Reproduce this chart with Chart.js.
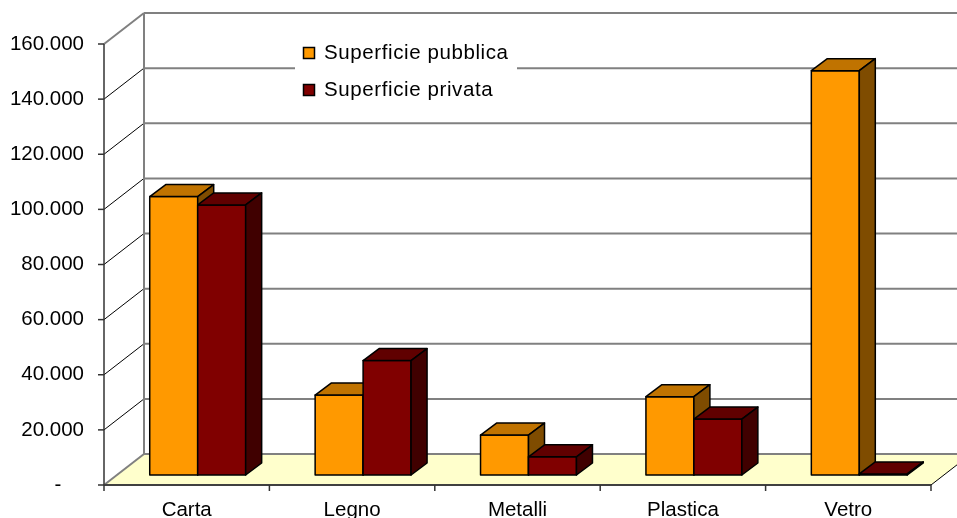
<!DOCTYPE html>
<html lang="it">
<head>
<meta charset="utf-8">
<title>Superficie pubblica e privata</title>
<script src="https://cdn.jsdelivr.net/npm/chart.js@4.4.1/dist/chart.umd.min.js"></script>
<style>
  html, body { margin: 0; padding: 0; background: #fff; }
  canvas { display: block; }
</style>
</head>
<body>
<canvas id="chart" width="957" height="518"></canvas>
<script>
// ── Data ──────────────────────────────────────────────────────
const categories = ['Carta', 'Legno', 'Metalli', 'Plastica', 'Vetro'];
const seriesNames = ['Superficie pubblica', 'Superficie privata'];
const pubblica = [101000, 29000, 14500, 28400, 146700];
const privata = [98000, 41500, 6600, 20300, 400];
const yTicks = [0, 20000, 40000, 60000, 80000, 100000, 120000, 140000, 160000];
const yTickLabels = ['-    ', '20.000', '40.000', '60.000', '80.000', '100.000', '120.000', '140.000', '160.000'];

// ── Look ──────────────────────────────────────────────────────
const FONT = '20.5px "Liberation Sans", Arial, sans-serif';
const orange = { front: '#ff9900', top: '#c07300', side: '#7f4c00' };
const maroon = { front: '#800000', top: '#600000', side: '#400000' };
const faces = [orange, maroon];
const GRID = '#808080';
const FLOOR = '#ffffcc';

// oblique offsets, measured from the plane of the bar fronts
const FRONT = { x: -11, y: 10 };
const BACK = { x: 29, y: -21 };
const DEPTH = { x: 16, y: -12 };

function line(ctx, x0, y0, x1, y1, color, width) {
  ctx.strokeStyle = color;
  ctx.lineWidth = width;
  ctx.beginPath();
  ctx.moveTo(x0, y0);
  ctx.lineTo(x1, y1);
  ctx.stroke();
}

function poly(ctx, pts, fill) {
  ctx.beginPath();
  pts.forEach(([px, py], i) => (i ? ctx.lineTo(px, py) : ctx.moveTo(px, py)));
  ctx.closePath();
  if (fill) {
    ctx.fillStyle = fill;
    ctx.fill();
  }
  ctx.strokeStyle = '#000';
  ctx.lineWidth = 1.5;
  ctx.stroke();
}

// ── Walls, floor, axes and 3D bars ────────────────────────────
const walls = {
  id: 'walls',
  beforeDatasetsDraw(chart) {
    const { ctx, chartArea: a, scales: { x, y } } = chart;
    const fx0 = a.left + FRONT.x, fx1 = a.right + FRONT.x;
    const bx0 = a.left + BACK.x, bx1 = a.right + BACK.x;
    const zero = y.getPixelForValue(0);
    ctx.save();

    // floor
    ctx.fillStyle = FLOOR;
    ctx.beginPath();
    ctx.moveTo(fx0, zero + FRONT.y);
    ctx.lineTo(fx1, zero + FRONT.y);
    ctx.lineTo(bx1, zero + BACK.y);
    ctx.lineTo(bx0, zero + BACK.y);
    ctx.closePath();
    ctx.fill();

    // gridlines on back wall, diagonals on the side wall, value labels
    ctx.font = FONT;
    ctx.textAlign = 'right';
    ctx.textBaseline = 'middle';
    yTicks.forEach((v, i) => {
      const py = y.getPixelForValue(v);
      line(ctx, bx0, py + BACK.y, bx1, py + BACK.y, GRID, 2);
      const edge = i === 0 || i === yTicks.length - 1;
      line(ctx, fx0, py + FRONT.y, bx0, py + BACK.y, edge ? GRID : '#000', edge ? 2 : 1);
      line(ctx, fx0 - 6, py + FRONT.y, fx0, py + FRONT.y, '#333', 1.5);
      ctx.fillStyle = '#000';
      ctx.fillText(yTickLabels[i], fx0 - 20, py + FRONT.y);
    });

    const top = y.getPixelForValue(yTicks[yTicks.length - 1]);
    line(ctx, bx0, top + BACK.y, bx0, zero + BACK.y, GRID, 2);
    line(ctx, fx0, top + FRONT.y, fx0, zero + FRONT.y, '#333', 1.5);

    // floor edges and category axis
    line(ctx, fx0, zero + FRONT.y, fx1, zero + FRONT.y, '#404040', 2);
    line(ctx, fx1, zero + FRONT.y, bx1, zero + BACK.y, '#000', 1);
    const cw = (a.right - a.left) / categories.length;
    for (let i = 0; i <= categories.length; i++) {
      const tx = fx0 + i * cw;
      line(ctx, tx, zero + FRONT.y, tx, zero + FRONT.y + 6, '#333', 1.5);
    }
    ctx.textAlign = 'center';
    ctx.textBaseline = 'alphabetic';
    ctx.fillStyle = '#000';
    categories.forEach((c, i) => {
      ctx.fillText(c, x.getPixelForValue(i) + FRONT.x, zero + FRONT.y + 31);
    });
    ctx.restore();
  },

  // repaint bars per category, left series first, so each front hides
  // the side face of the bar to its left
  afterDatasetsDraw(chart) {
    const { ctx } = chart;
    const metas = chart.data.datasets.map((_, d) => chart.getDatasetMeta(d));
    ctx.save();
    ctx.lineJoin = 'round';
    categories.forEach((_, i) => {
      metas.forEach((meta, d) => {
        const bar = meta.data[i];
        const col = faces[d];
        const { x, y, base, width } = bar.getProps(['x', 'y', 'base', 'width'], true);
        const l = x - width / 2, r = x + width / 2;
        poly(ctx, [[l, y], [r, y], [r, base], [l, base]], col.front);
        poly(ctx, [[l, y], [r, y], [r + DEPTH.x, y + DEPTH.y], [l + DEPTH.x, y + DEPTH.y]], col.top);
        poly(ctx, [[r, y], [r + DEPTH.x, y + DEPTH.y], [r + DEPTH.x, base + DEPTH.y], [r, base]], col.side);
      });
    });
    ctx.restore();
  },

  // legend box sits over the back wall
  afterDraw(chart) {
    const { ctx } = chart;
    ctx.save();
    ctx.fillStyle = '#fff';
    ctx.fillRect(295, 27, 222, 84);
    ctx.font = FONT;
    ctx.letterSpacing = '0.6px';
    ctx.textAlign = 'left';
    ctx.textBaseline = 'middle';
    seriesNames.forEach((name, i) => {
      const ly = 53 + i * 37;
      ctx.fillStyle = faces[i].front;
      ctx.fillRect(303.5, ly - 5.5, 11, 11);
      ctx.strokeStyle = '#000';
      ctx.lineWidth = 1.5;
      ctx.strokeRect(303.5, ly - 5.5, 11, 11);
      ctx.fillStyle = '#000';
      ctx.fillText(name, 324, ly);
    });
    ctx.restore();
  }
};

// ── Chart ─────────────────────────────────────────────────────
new Chart(document.getElementById('chart'), {
  type: 'bar',
  data: {
    labels: categories,
    datasets: [
      { label: seriesNames[0], data: pubblica, backgroundColor: orange.front, borderWidth: 0 },
      { label: seriesNames[1], data: privata, backgroundColor: maroon.front, borderWidth: 0 }
    ]
  },
  options: {
    responsive: false,
    animation: false,
    devicePixelRatio: 1,
    layout: { padding: { left: 115, right: 15, top: 34, bottom: 43 } },
    datasets: { bar: { categoryPercentage: 0.58, barPercentage: 1 } },
    plugins: { legend: { display: false }, tooltip: { enabled: false } },
    scales: {
      x: { display: false, offset: true },
      y: { display: false, min: 0, max: 160000 }
    }
  },
  plugins: [walls]
});
</script>
</body>
</html>
